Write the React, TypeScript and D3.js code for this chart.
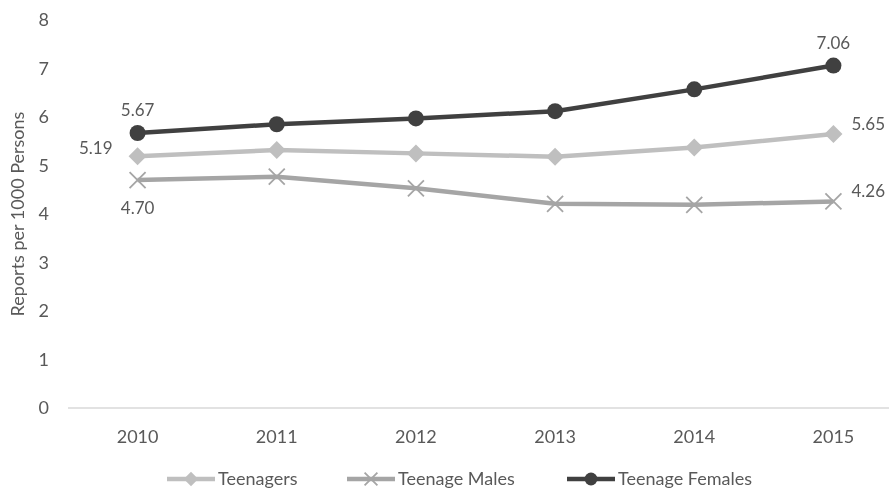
import React, { useEffect, useRef } from 'react';
import * as d3 from 'd3';

const years = ['2010', '2011', '2012', '2013', '2014', '2015'];
const teenagers = [5.19, 5.32, 5.25, 5.18, 5.37, 5.65];
const teenageMales = [4.70, 4.77, 4.53, 4.21, 4.19, 4.26];
const teenageFemales = [5.67, 5.85, 5.97, 6.12, 6.57, 7.06];
const yTicks = [0, 1, 2, 3, 4, 5, 6, 7, 8];

const FONT = 'Lato, "Open Sans", sans-serif';
const TEXT = '#595959';

const series = [
  { name: 'Teenagers', values: teenagers, color: '#BFBFBF', marker: 'diamond', firstLabel: 'left', lastLabel: 'right' },
  { name: 'Teenage Males', values: teenageMales, color: '#A5A5A5', marker: 'x', firstLabel: 'below', lastLabel: 'right' },
  { name: 'Teenage Females', values: teenageFemales, color: '#404040', marker: 'circle', firstLabel: 'above', lastLabel: 'above' },
];

function drawMarker(g: any, kind: string, x: number, y: number, color: string, s = 1) {
  if (kind === 'circle') {
    g.append('circle').attr('cx', x).attr('cy', y).attr('r', 8 * s).attr('fill', color);
  } else if (kind === 'diamond') {
    const r = 9 * s;
    g.append('path')
      .attr('d', `M${x},${y - r}L${x + r},${y}L${x},${y + r}L${x - r},${y}Z`)
      .attr('fill', color);
  } else {
    const r = 8 * s;
    g.append('path')
      .attr('d', `M${x - r},${y - r}L${x + r},${y + r}M${x - r},${y + r}L${x + r},${y - r}`)
      .attr('stroke', color)
      .attr('stroke-width', 1.8)
      .attr('fill', 'none');
  }
}

export default function App() {
  const svgRef = useRef<SVGSVGElement>(null);

  useEffect(() => {
    const w = 889;
    const h = 494;
    const svg = d3.select(svgRef.current).attr('width', w).attr('height', h);
    svg.selectAll('*').remove();

    const x = d3.scaleBand().domain(years).range([68, 903]);
    const y = d3.scaleLinear().domain([0, 8]).range([408, 20]);
    const cx = (d: string) => (x(d) as number) + x.bandwidth() / 2;

    // axis line
    svg.append('line')
      .attr('x1', 68).attr('x2', w)
      .attr('y1', y(0)).attr('y2', y(0))
      .attr('stroke', '#D9D9D9').attr('stroke-width', 1.5);

    // y tick labels
    svg.append('g').selectAll('text')
      .data(yTicks)
      .enter()
      .append('text')
      .attr('x', 49)
      .attr('y', d => y(d))
      .attr('dy', '0.35em')
      .attr('text-anchor', 'end')
      .attr('font-family', FONT).attr('font-size', 18).attr('fill', TEXT)
      .text(d => d);

    // x tick labels
    svg.append('g').selectAll('text')
      .data(years)
      .enter()
      .append('text')
      .attr('x', d => cx(d))
      .attr('y', 443)
      .attr('text-anchor', 'middle')
      .attr('font-family', FONT).attr('font-size', 18).attr('fill', TEXT)
      .text(d => d);

    // y axis title
    svg.append('text')
      .attr('transform', `translate(24,214) rotate(-90)`)
      .attr('text-anchor', 'middle')
      .attr('font-family', FONT).attr('font-size', 18).attr('fill', TEXT)
      .text('Reports per 1000 Persons');

    const line = d3.line<number>()
      .x((d, i) => cx(years[i]))
      .y(d => y(d));

    series.forEach(s => {
      const g = svg.append('g');
      g.append('path')
        .datum(s.values)
        .attr('fill', 'none')
        .attr('stroke', s.color)
        .attr('stroke-width', 4.5)
        .attr('stroke-linejoin', 'round')
        .attr('d', line);
      s.values.forEach((v, i) => drawMarker(g, s.marker, cx(years[i]), y(v), s.color));

      const label = (i: number, pos: string) => {
        const px = cx(years[i]);
        const py = y(s.values[i]);
        const t = g.append('text')
          .attr('font-family', FONT).attr('font-size', 17).attr('fill', TEXT)
          .text(s.values[i].toFixed(2));
        if (pos === 'above') t.attr('x', px).attr('y', py - 17).attr('text-anchor', 'middle');
        else if (pos === 'below') t.attr('x', px).attr('y', py + 34).attr('text-anchor', 'middle');
        else if (pos === 'left') t.attr('x', px - 25).attr('y', py - 2).attr('text-anchor', 'end');
        else t.attr('x', px + 18).attr('y', py - 4).attr('text-anchor', 'start');
      };
      label(0, s.firstLabel);
      label(s.values.length - 1, s.lastLabel);
    });

    // legend
    const legendItems = [
      { s: series[0], x0: 167 },
      { s: series[1], x0: 347 },
      { s: series[2], x0: 567 },
    ];
    const ly = 479;
    legendItems.forEach(({ s, x0 }) => {
      const g = svg.append('g');
      g.append('line')
        .attr('x1', x0).attr('x2', x0 + 48)
        .attr('y1', ly).attr('y2', ly)
        .attr('stroke', s.color).attr('stroke-width', 4.5);
      drawMarker(g, s.marker, x0 + 24, ly, s.color, 0.8);
      g.append('text')
        .attr('x', x0 + 51)
        .attr('y', ly + 6)
        .attr('font-family', FONT).attr('font-size', 18).attr('fill', TEXT)
        .text(s.name);
    });
  }, []);

  return (
    <div style={{ position: 'fixed', left: 0, top: 0 }}>
      <svg ref={svgRef} style={{ display: 'block' }} />
    </div>
  );
}
